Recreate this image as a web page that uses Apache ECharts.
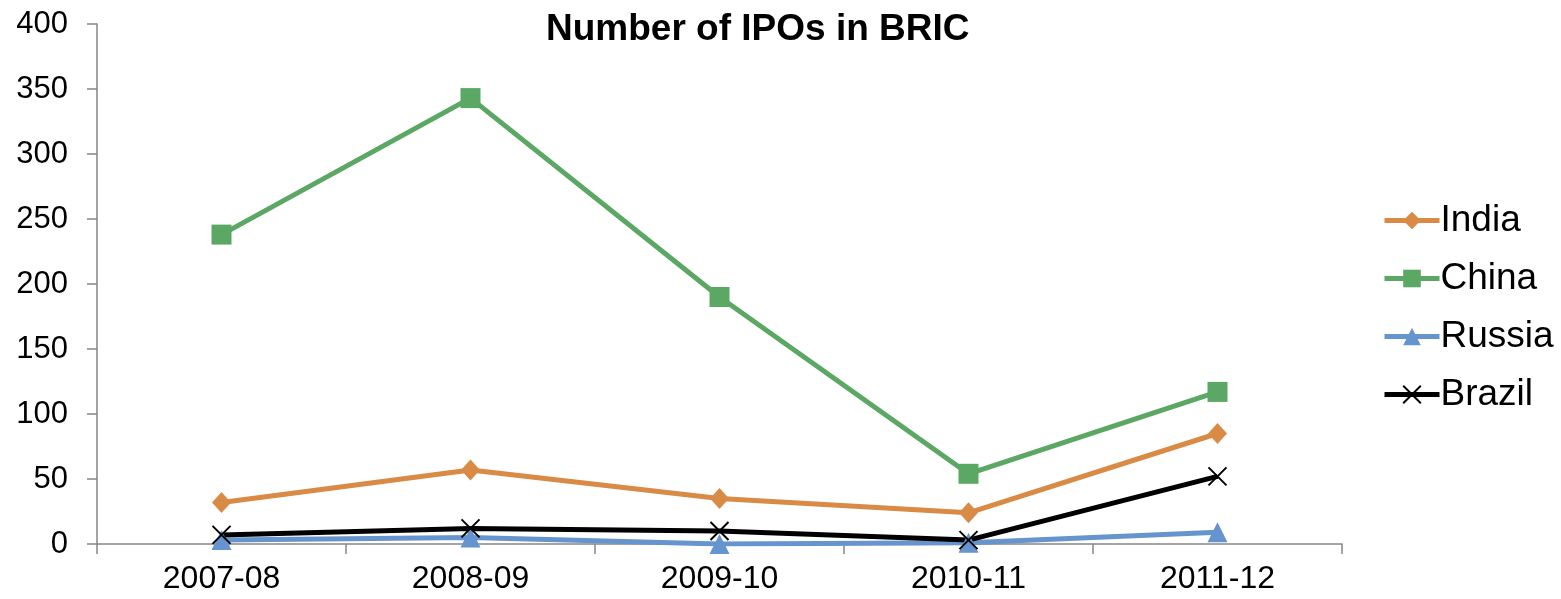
<!DOCTYPE html>
<html lang="en">
<head>
    <meta charset="UTF-8">
    <title>Number of IPOs in BRIC</title>
    <style>
        body { margin: 0; padding: 0; background: #fff; }
        #chart { width: 1561px; height: 599px; }
    </style>
</head>
<body>
<div id="chart"></div>
<script src="https://cdn.jsdelivr.net/npm/echarts@6/dist/echarts.min.js"></script>
<script>
    const years = ["2007-08", "2008-09", "2009-10", "2010-11", "2011-12"];
    const india = [32, 57, 35, 24, 85];
    const china = [238, 343, 190, 54, 117];
    const russia = [3, 5, 0, 1, 9];
    const brazil = [7, 12, 10, 3, 52];
    const yTicks = [0, 50, 100, 150, 200, 250, 300, 350, 400];

    const font = "Liberation Sans, Arial, sans-serif";
    const crossPath = "path://M0,0L10,10M10,0L0,10";

    function lineSeries(name, data, color, symbol, size, extra) {
        return Object.assign({
            name,
            type: "line",
            data,
            symbol,
            symbolSize: size,
            showAllSymbol: true,
            lineStyle: { color, width: 5 },
            itemStyle: { color },
            emphasis: { disabled: true }
        }, extra || {});
    }

    const chart = echarts.init(document.getElementById("chart"));
    chart.setOption({
        animation: false,
        backgroundColor: "#fff",
        title: {
            text: "Number of IPOs in BRIC",
            left: 541,
            top: 6,
            textStyle: { fontFamily: font, fontSize: 37, fontWeight: "bold", color: "#000" }
        },
        legend: {
            orient: "vertical",
            left: 1377,
            top: 197,
            itemWidth: 55,
            itemHeight: 22,
            itemGap: 21,
            lineStyle: { width: 5 },
            textStyle: { fontFamily: font, fontSize: 37, color: "#000", padding: [0, 0, 0, -4] },
            data: ["India", "China", "Russia", "Brazil"]
        },
        grid: { left: 97, right: 219, top: 24, bottom: 55, containLabel: false },
        xAxis: {
            type: "category",
            data: years,
            boundaryGap: true,
            axisLine: { lineStyle: { color: "#868686", width: 1.5 } },
            axisTick: { show: true, length: 10, alignWithLabel: false, lineStyle: { color: "#868686", width: 1.5 } },
            axisLabel: { fontFamily: font, fontSize: 32, color: "#000", margin: 19 },
            splitLine: { show: false }
        },
        yAxis: {
            type: "value",
            min: yTicks[0],
            max: yTicks[yTicks.length - 1],
            interval: 50,
            axisLine: { show: true, lineStyle: { color: "#868686", width: 1.5 } },
            axisTick: { show: true, length: 10, lineStyle: { color: "#868686", width: 1.5 } },
            axisLabel: { fontFamily: font, fontSize: 31, color: "#000", margin: 29 },
            splitLine: { show: false }
        },
        series: [
            lineSeries("India", india, "#D98A45", "diamond", [19, 21]),
            lineSeries("China", china, "#5BA764", "rect", 20),
            lineSeries("Russia", russia, "#6594CE", "triangle", 20),
            lineSeries("Brazil", brazil, "#000000", crossPath, 18, {
                itemStyle: { color: "#000", borderColor: "#000", borderWidth: 2 }
            })
        ]
    });
</script>
</body>
</html>
